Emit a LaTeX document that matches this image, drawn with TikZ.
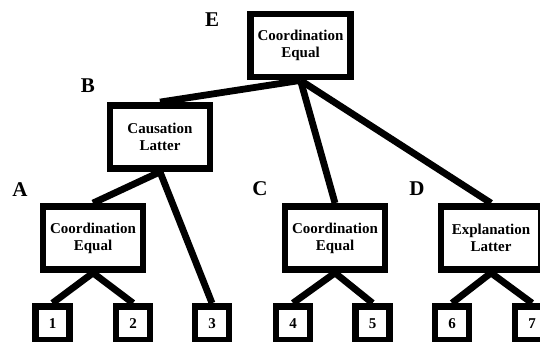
\documentclass[tikz,border=0pt]{standalone}
\usepackage{fontspec}
\setmainfont{Liberation Serif}
\tikzset{
  relbox/.style={draw,rectangle,line width=3.4pt,minimum width=50pt,minimum height=31.5pt,
    inner sep=0pt,align=center,font=\fontsize{7.5}{8.6}\selectfont\bfseries},
  leafbox/.style={draw,rectangle,line width=3.4pt,minimum size=17pt,inner sep=0pt,
    font=\fontsize{7.5}{8.6}\selectfont\bfseries},
  tag/.style={font=\fontsize{10.5}{12}\selectfont\bfseries},
  arc/.style={line width=3.4pt}
}
\begin{document}
\begin{tikzpicture}[x=0.5pt,y=0.5pt]
        \clip (0,0) rectangle (540,342);
        \node[relbox] (E) at (300.5,296.5) {Coordination\\Equal};
        \node[relbox] (B) at (160,205) {Causation\\Latter};
        \node[relbox] (A) at (93,104) {Coordination\\Equal};
        \node[relbox] (C) at (335,104) {Coordination\\Equal};
        \node[relbox] (D) at (491,104) {Explanation\\Latter};
        \node[leafbox] (L1) at (52.5,18.5) {1};
        \node[leafbox] (L2) at (133,18.5) {2};
        \node[leafbox] (L3) at (212,18.5) {3};
        \node[leafbox] (L4) at (293,18.5) {4};
        \node[leafbox] (L5) at (372.5,18.5) {5};
        \node[leafbox] (L6) at (452,18.5) {6};
        \node[leafbox] (L7) at (532,18.5) {7};
        \node[tag] (tE) at (212,322) {E};
        \node[tag] (tB) at (88,256) {B};
        \node[tag] (tA) at (20,152) {A};
        \node[tag] (tC) at (260,153) {C};
        \node[tag] (tD) at (417,153) {D};
        \draw[arc] (E.south) -- (B.north);
        \draw[arc] (E.south) -- (C.north);
        \draw[arc] (E.south) -- (D.north);
        \draw[arc] (B.south) -- (A.north);
        \draw[arc] (B.south) -- (L3.north);
        \draw[arc] (A.south) -- (L1.north);
        \draw[arc] (A.south) -- (L2.north);
        \draw[arc] (C.south) -- (L4.north);
        \draw[arc] (C.south) -- (L5.north);
        \draw[arc] (D.south) -- (L6.north);
        \draw[arc] (D.south) -- (L7.north);
      \end{tikzpicture}
\end{document}
